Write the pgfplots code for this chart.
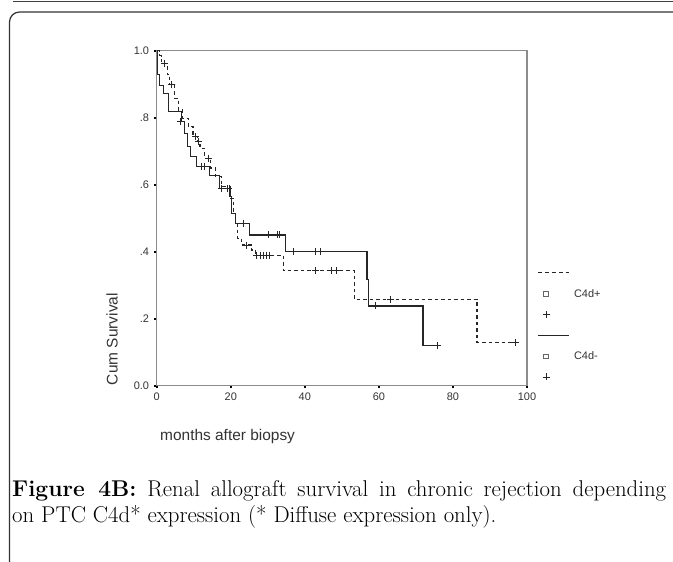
\documentclass[border=0pt]{standalone}
\usepackage{pgfplots}
\pgfplotsset{compat=1.18}
\usepackage{fontspec}
\newfontfamily\arial{Liberation Sans}

\begin{document}
\begin{tikzpicture}
\useasboundingbox (0,0) rectangle (673bp,-562bp);
% page frame
\draw[line width=1bp, black!75] (13bp,-1bp) -- (673bp,-1bp);
\draw[line width=1.2bp, black!80, rounded corners=10bp] (9.5bp,-562bp) -- (9.5bp,-12bp) -- (673bp,-12bp);

\begin{axis}[
    at={(156.7bp,-385.7bp)}, anchor=south west,
    scale only axis, width=370.3bp, height=335bp,
    xmin=0, xmax=100, ymin=0, ymax=1,
    axis line style={draw=black!45, line width=1.5bp},
    xtick={0,20,40,60,80,100}, xticklabels={0,20,40,60,80,100},
    ytick={0,0.2,0.4,0.6,0.8,1}, yticklabels={0.0,.2,.4,.6,.8,1.0},
    xtick pos=bottom, ytick pos=left,
    tick align=outside, major tick length=2.5bp,
    tick style={black, line width=2.2bp},
    ticklabel style={font=\arial\fontsize{11}{13}\selectfont, text=black!80},
    yticklabel style={inner sep=0pt, xshift=-5bp},
    xticklabel style={inner sep=0pt, yshift=-4bp},
    xlabel={months after biopsy}, ylabel={Cum Survival},
    every axis x label/.style={at={(rel axis cs:0,0)}, anchor=west, yshift=-51.3bp,
        font=\arial\fontsize{15.5}{18}\selectfont, text=black!80},
    every axis y label/.style={at={(rel axis cs:-0.1207,0.139)}, rotate=90, anchor=center,
        font=\arial\fontsize{15.5}{18}\selectfont, text=black!80},
    legend style={at={(1.027,0.3675)}, anchor=north west, draw=none, fill=none,
        inner sep=0pt, outer sep=0pt, row sep=0pt, column sep=5bp,
        font=\arial\fontsize{11}{13}\selectfont, text=black!80,
        cells={anchor=west}, nodes={inner sep=0pt, minimum height=20.8bp}},
]
% C4d+ (dashed)
\addplot[const plot, no marks, black!85, line width=1.1bp, dash pattern=on 3.5bp off 3bp, forget plot] coordinates {
(0,1.0) (0.8,0.985) (1.3,0.962) (2.8,0.93) (3.5,0.898) (4.9,0.858) (5.8,0.823)
(7.0,0.798) (8.5,0.773) (9.8,0.743) (11.0,0.728) (11.7,0.709) (13.0,0.679)
(14.5,0.65) (15.8,0.624) (17.5,0.594) (19.9,0.56) (20.7,0.515) (21.3,0.485)
(21.8,0.44) (23.0,0.420) (25.7,0.405) (26.8,0.390) (34.2,0.343) (53.3,0.258)
(86.5,0.128) (96.8,0.128)};
\addplot[only marks, mark=+, mark size=3.5bp, black!85, mark options={line width=0.8bp}, forget plot] coordinates {
(2.2,0.962) (4.05,0.898) (10.4,0.743) (11.2,0.728) (13.9,0.679) (24.3,0.420)
(27.0,0.39) (28.0,0.39) (28.8,0.39) (29.6,0.39) (30.3,0.39) (42.8,0.343)
(47.3,0.343) (48.6,0.343) (63.1,0.258) (96.8,0.128)};
% C4d- (solid)
\addplot[const plot, no marks, black!85, line width=1.1bp, forget plot] coordinates {
(0,1.0) (0.2,0.93) (0.7,0.897) (1.8,0.873) (3.1,0.818) (6.8,0.788) (7.6,0.753)
(8.3,0.713) (9.2,0.684) (10.8,0.654) (14.2,0.627) (16.9,0.589) (19.8,0.564)
(20.3,0.515) (21.2,0.485) (25.0,0.450) (34.7,0.400) (56.8,0.316) (57.3,0.238)
(71.9,0.119) (75.8,0.119)};
\addplot[only marks, mark=+, mark size=3.5bp, black!85, mark options={line width=0.8bp}, forget plot] coordinates {
(6.5,0.788) (12.0,0.654) (13.0,0.654) (17.6,0.589) (19.0,0.589) (19.5,0.589)
(23.4,0.485) (30.2,0.450) (32.6,0.450) (33.2,0.450) (36.9,0.400) (42.8,0.400)
(44.1,0.400) (59.0,0.238) (75.8,0.119)};

% SPSS-style legend
\addlegendimage{legend image code/.code={\draw[black!85, line width=1bp, dash pattern=on 4bp off 3bp] (0bp,0bp) -- (31bp,0bp);}}
\addlegendentry{}
\addlegendimage{only marks, mark=square, mark size=2.3bp, black!60, mark options={line width=0.7bp}}
\addlegendentry{C4d+}
\addlegendimage{only marks, mark=+, mark size=3.5bp, black!85, mark options={line width=0.8bp}}
\addlegendentry{}
\addlegendimage{legend image code/.code={\draw[black!85, line width=1bp] (0bp,0bp) -- (31bp,0bp);}}
\addlegendentry{}
\addlegendimage{only marks, mark=square, mark size=2.3bp, black!60, mark options={line width=0.7bp}}
\addlegendentry{C4d-}
\addlegendimage{only marks, mark=+, mark size=3.5bp, black!85, mark options={line width=0.8bp}}
\addlegendentry{}
\end{axis}

\node[anchor=north west, inner sep=0pt, text width=654bp, align=justify,
      font=\fontsize{22.9}{26}\selectfont] at (12bp,-480bp)
  {\textbf{Figure 4B:} Renal allograft survival in chronic rejection depending\linebreak on PTC C4d* expression (* Diffuse expression only).};
\end{tikzpicture}
\end{document}
